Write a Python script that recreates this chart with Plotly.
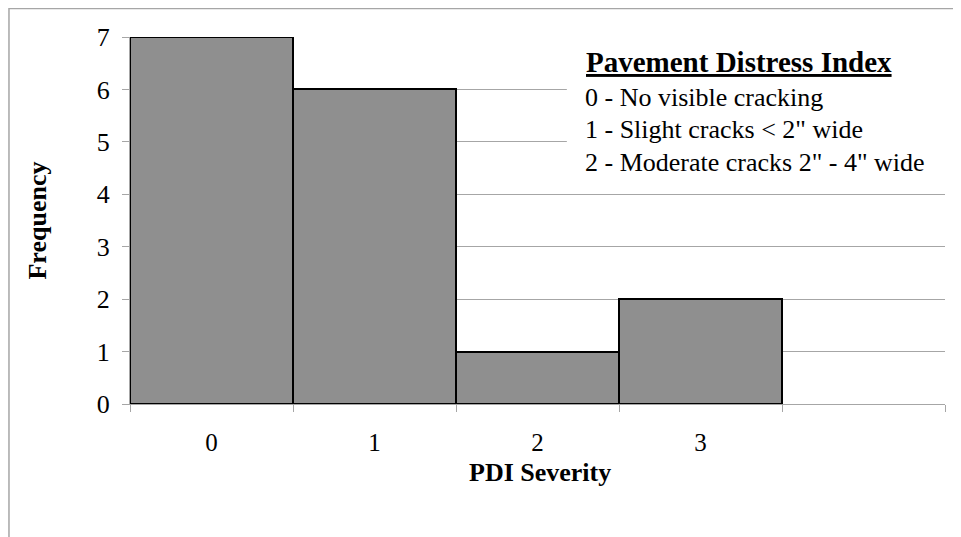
import plotly.graph_objects as go

categories = [0, 1, 2, 3]
tick_labels = ["0", "1", "2", "3"]
frequency = [7, 6, 1, 2]
boundaries = [-0.5, 0.5, 1.5, 2.5, 3.5, 4.5]
y_ticks = [0, 1, 2, 3, 4, 5, 6, 7]
legend_title = "Pavement Distress Index"
legend_items = [
    "0 - No visible cracking",
    "1 - Slight cracks < 2\" wide",
    "2 - Moderate cracks 2\" - 4\" wide",
]

FONT = "Liberation Serif, Times New Roman, serif"
GRID = "#a6a6a6"

fig = go.Figure()
fig.add_trace(go.Bar(
    x=categories, y=frequency, width=1,
    marker=dict(color="#8f8f8f", line=dict(color="black", width=2)),
    showlegend=False, hoverinfo="skip",
))
# invisible trace to activate the label axis
fig.add_trace(go.Scatter(x=categories, y=[0] * len(categories), xaxis="x2",
                         mode="markers", marker=dict(opacity=0),
                         showlegend=False, hoverinfo="skip"))

fig.update_layout(
    width=953, height=529,
    margin=dict(l=122, r=16, t=29, b=133),
    paper_bgcolor="white", plot_bgcolor="white",
    font=dict(family=FONT, color="black", size=24),
    bargap=0,
    xaxis=dict(
        range=[-0.5, 4.5], tickvals=boundaries, ticktext=[""] * len(boundaries),
        ticks="outside", ticklen=7, tickcolor=GRID, tickwidth=1,
        showgrid=False, zeroline=False, showline=True, linecolor=GRID, linewidth=1,
    ),
    xaxis2=dict(
        overlaying="x", matches="x", range=[-0.5, 4.5], side="bottom",
        tickvals=categories, ticktext=tick_labels, ticks="", showgrid=False,
        zeroline=False, showline=False, ticklabelstandoff=21,
        tickfont=dict(size=25, family=FONT),
    ),
    yaxis=dict(
        range=[0, 7], tickvals=y_ticks, ticks="outside", ticklen=7, tickcolor=GRID,
        showgrid=True, gridcolor=GRID, gridwidth=1, zeroline=False,
        showline=True, linecolor=GRID, linewidth=1, ticklabelstandoff=7,
        tickfont=dict(size=26, family=FONT),
    ),
    shapes=[
        dict(type="rect", xref="paper", yref="paper", x0=0.536, x1=1.004, y0=0.62, y1=1.005,
             fillcolor="white", line=dict(width=0), layer="above"),
        dict(type="rect", xref="paper", yref="paper", x0=-0.1485, x1=1.04, y0=-0.6, y1=1.0775,
             fillcolor="rgba(0,0,0,0)", line=dict(color="#a6a6a6", width=1.5), layer="below"),
    ],
)

# axis titles
fig.add_annotation(xref="paper", yref="paper", x=-0.1141, y=0.5, xanchor="center", yanchor="middle",
                   text="<b>Frequency</b>", textangle=-90, showarrow=False,
                   font=dict(size=26, family=FONT))
fig.add_annotation(xref="paper", yref="paper", x=0.503, y=-0.186, xanchor="center", yanchor="middle",
                   text="<b>PDI Severity</b>", showarrow=False,
                   font=dict(size=26, family=FONT))

# legend text box
fig.add_annotation(xref="paper", yref="paper", x=0.5575, y=0.932, xanchor="left", yanchor="middle",
                   text="<b><u>" + legend_title + "</u></b>", showarrow=False,
                   font=dict(size=29, family=FONT))
ys = [0.8365, 0.7493, 0.6594]
for txt, yy in zip(legend_items, ys):
    fig.add_annotation(xref="paper", yref="paper", x=0.5555, y=yy, xanchor="left", yanchor="middle",
                       text=txt.replace("<", "&lt;"), showarrow=False,
                       font=dict(size=26, family=FONT))

fig.write_html("out.html")
